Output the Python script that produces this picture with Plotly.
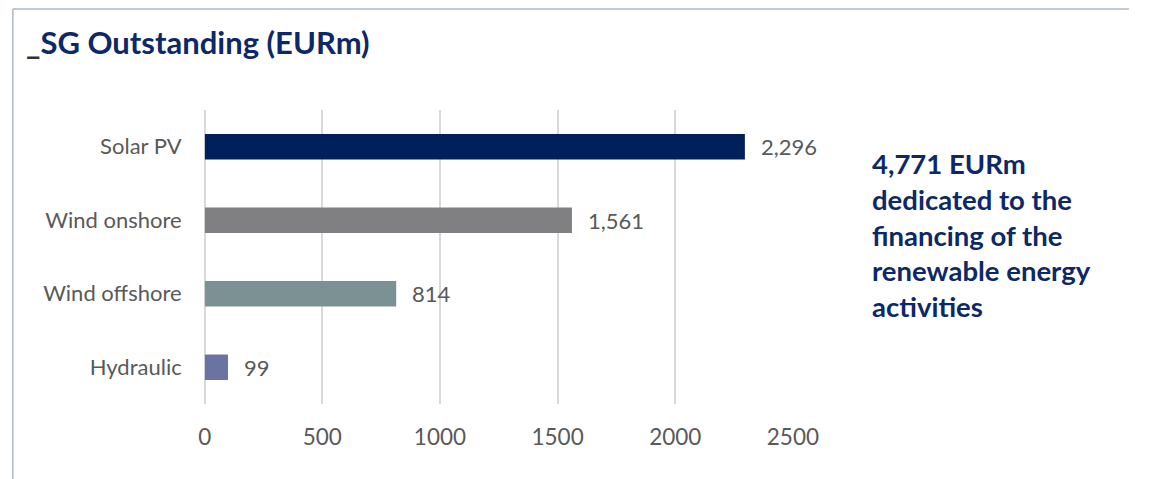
import plotly.graph_objects as go

# Outstanding amounts by technology (EURm)
categories = ["Solar PV", "Wind onshore", "Wind offshore", "Hydraulic"]
values = [2296, 1561, 814, 99]
bar_colors = ["#00205b", "#808083", "#7b9193", "#6b73a3"]
x_ticks = [0, 500, 1000, 1500, 2000, 2500]

W, H = 1155, 479
NAVY = "#0d2866"
GREY = "#595959"
FONT = "Source Sans Pro, Lato, Noto Sans, sans-serif"

fig = go.Figure(
    go.Bar(
        y=categories,
        x=values,
        orientation="h",
        marker=dict(color=bar_colors, line=dict(width=0)),
        width=0.35,
        hoverinfo="skip",
    )
)

# value labels at the end of each bar
for cat, v in zip(categories, values):
    fig.add_annotation(
        x=v, y=cat, xref="x", yref="y",
        text=f"{v:,}", showarrow=False,
        xanchor="left", xshift=14,
        font=dict(family=FONT, size=22, color=GREY),
    )

# title
fig.add_annotation(
    x=18 / W, y=1 - 42 / H, xref="paper", yref="paper",
    xanchor="left", yanchor="middle", showarrow=False,
    text="<span style='color:#333333'>_</span>SG Outstanding (EURm)",
    font=dict(family=FONT, size=31, color=NAVY, weight="bold"),
)

# side note
fig.add_annotation(
    x=888 / W, y=1 - 235 / H, xref="paper", yref="paper",
    xanchor="left", yanchor="middle", align="left", showarrow=False,
    text="4,771 EURm<br>dedicated to the<br>financing of the<br>renewable energy<br>activities",
    font=dict(family=FONT, size=27.5, color=NAVY, weight="bold"),
)

# frame lines on top and left
border = "#aebbc3"
fig.add_shape(type="line", xref="paper", yref="paper",
              x0=6 / W, x1=1, y0=1 - 9 / H, y1=1 - 9 / H,
              line=dict(color=border, width=1.5))
fig.add_shape(type="line", xref="paper", yref="paper",
              x0=6 / W, x1=6 / W, y0=0, y1=1 - 9 / H,
              line=dict(color=border, width=1.5))

fig.update_layout(
    width=W, height=H,
    margin=dict(l=0, r=0, t=0, b=0),
    paper_bgcolor="white", plot_bgcolor="white",
    showlegend=False,
    xaxis=dict(
        domain=[203.5 / W, 809 / W],
        range=[0, 2500],
        tickvals=x_ticks,
        ticktext=[str(t) for t in x_ticks],
        showgrid=True, gridcolor="#d9d9d9", gridwidth=2,
        zeroline=True, zerolinecolor="#d9d9d9", zerolinewidth=2,
        showline=False, ticks="",
        ticklabelstandoff=17,
        tickfont=dict(family=FONT, size=22.5, color=GREY),
        fixedrange=True,
    ),
    yaxis=dict(
        domain=[1 - 404 / H, 1 - 110 / H],
        categoryorder="array",
        categoryarray=categories[::-1],
        showgrid=False, zeroline=False, showline=False, ticks="",
        ticklabelstandoff=22,
        tickfont=dict(family=FONT, size=22, color=GREY),
        fixedrange=True,
    ),
)

fig.write_html("out.html", config={"displayModeBar": False})
